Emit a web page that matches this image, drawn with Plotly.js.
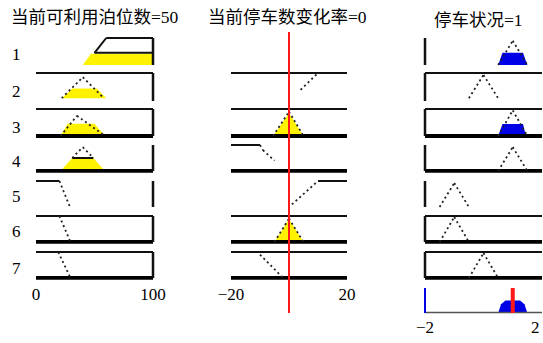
<!DOCTYPE html>
<html><head><meta charset="utf-8">
<script src="https://cdn.plot.ly/plotly-3.0.1.min.js"></script>
<style>html,body{margin:0;padding:0;background:#fff;}#chart{width:543px;height:343px;}</style>
</head><body><div id="chart"></div>
<script>
// ---------------- data ----------------
const in1Name = '当前可利用泊位数';
const in2Name = '当前停车数变化率';
const outName = '停车状况';
const in1Value = 50;
const in2Value = 0;
const outValue = 1;
const in1Range = [0, 100];
const in2Range = [-20, 20];
const outRange = [-2, 2];
const ruleLabels = ['1', '2', '3', '4', '5', '6', '7'];

// membership-function outlines per rule (x = variable value, y = membership degree)
const in1MfX = [[50, 60, 100], [22, 40, 58], [21, 35, 59], [31, 40, 49], [0, 20, 29], [0, 20, 29], [0, 19, 29]];
const in1MfY = [[0.45, 1, 1], [0.1, 0.85, 0.1], [0, 0.75, 0], [0.5, 0.92, 0.5], [1, 1, 0], [1, 1, 0.05], [1, 1, 0.05]];
const in1FillX = [[40, 47, 100, 100], [22, 31, 52, 60], [21, 27, 50, 59], [21, 31, 49, 59], null, null, null];
const in1FillY = [[0, 0.42, 0.42, 0], [0.1, 0.45, 0.45, 0.1], [0, 0.45, 0.45, 0], [0, 0.5, 0.5, 0], null, null, null];
const in1LevelX = [[50, 100], null, null, [31, 49], null, null, null];
const in1LevelY = [[0.45, 0.45], null, null, [0.5, 0.5], null, null, null];

const in2MfX = [null, [4, 10, 20], [-5.5, 0, 5], [-20, -10, -9, -5], [1, 10, 20], [-5, 0, 5], [-10, -2]];
const in2MfY = [null, [0.4, 1, 1], [0, 0.9, 0], [1, 1, 0.8, 0.4], [0.1, 1, 1], [0, 0.9, 0], [0.9, 0]];
const in2FillX = [null, null, [-5.5, 0, 5], null, null, [-5, 0, 5], null];
const in2FillY = [null, null, [0, 0.85, 0], null, null, [0, 0.88, 0], null];

const outMfX = [[0.5, 1, 1.5], [-0.5, 0, 0.5], [0.5, 1, 1.5], [0.5, 1, 1.5], [-1.5, -1, -0.5], [-1.5, -1, -0.5], [-0.5, 0, 0.5]];
const outMfY = [[0, 0.9, 0], [0.1, 0.93, 0.1], [0, 0.95, 0], [0, 0.92, 0], [0, 0.92, 0], [0, 0.96, 0], [0, 0.96, 0]];
const outFillX = [[0.5, 0.65, 1.35, 1.5], null, [0.5, 0.65, 1.35, 1.45], null, null, null, null];
const outFillY = [[0, 0.45, 0.45, 0], null, [0, 0.44, 0.44, 0], null, null, null, null];
const aggX = [0.5, 0.6, 0.75, 1.25, 1.4, 1.5];
const aggY = [0, 0.35, 0.5, 0.5, 0.35, 0];

// ---------------- layout geometry / styles ----------------
const W = 543, H = 343;
const colPx = [[36, 153], [231, 347], [425, 542]];
const rowTop = [38, 73, 109, 145, 181, 216, 252, 288];
const rowBot = [65, 101, 136, 171, 207, 242, 278, 313];
const axisPosPx = [282, 282, 316];
const padF = 0.07;
const YELLOW = '#fff200', BLUE = '#0000e6', RED = '#ff1a1a';
const SERIF = '"Liberation Serif", "Times New Roman", "Noto Sans CJK SC", serif';
const frames = [
  ['R', 'TR', 'TBR', 'BR', 'R', 'TBR', 'TBR'],
  ['', 'T', 'TB', 'B', '', 'TB', 'TB'],
  ['L', 'TL', 'TBL', 'BL', 'L', 'TBL', 'TBL']
];
const solidMfRows = [[0], [], []];
const ranges = [in1Range, in2Range, outRange];

const layout = {
  width: W, height: H, margin: {l: 0, r: 0, t: 0, b: 0},
  paper_bgcolor: '#fff', plot_bgcolor: 'rgba(0,0,0,0)',
  showlegend: false, hovermode: false, annotations: []
};
const tickFont = {family: SERIF, size: 17, color: '#000'};

// x axes (one per column)
const xIds = ['x', 'x2', 'x3'];
for (let c = 0; c < 3; c++) {
  const r = ranges[c], px0 = colPx[c][0], px1 = colPx[c][1];
  const scale = (r[1] - r[0]) / (px1 - px0);
  const pp = padF * (px1 - px0);
  const dLo = Math.max(0, px0 - pp), dHi = Math.min(W, px1 + pp);
  const key = c === 0 ? 'xaxis' : 'xaxis' + (c + 1);
  layout[key] = {
    domain: [dLo / W, dHi / W],
    range: [r[0] - (px0 - dLo) * scale, r[1] + (dHi - px1) * scale],
    anchor: 'free', position: 1 - axisPosPx[c] / H,
    showgrid: false, zeroline: false, showline: false, ticks: '',
    tickvals: [r[0], r[1]], showticklabels: c !== 2,
    tickfont: tickFont
  };
}
// output axis tick labels (drawn as annotations so the edge label is not dropped)
layout.annotations.push(
  {text: '\u2212' + Math.abs(outRange[0]), x: outRange[0], xref: 'x3', y: 1 - 327 / H, yref: 'paper',
   showarrow: false, xanchor: 'center', yanchor: 'middle', font: tickFont},
  {text: String(outRange[1]), x: outRange[1], xref: 'x3', y: 1 - 327 / H, yref: 'paper',
   showarrow: false, xanchor: 'right', yanchor: 'middle', font: tickFont}
);
// y axes (one per row + one full-height for the input marker line)
const yIds = [];
for (let i = 0; i < 8; i++) {
  const h = rowBot[i] - rowTop[i];
  const pp = padF * h;
  const key = i === 0 ? 'yaxis' : 'yaxis' + (i + 1);
  yIds.push(i === 0 ? 'y' : 'y' + (i + 1));
  layout[key] = {
    domain: [1 - (rowBot[i] + pp) / H, 1 - (rowTop[i] - pp) / H],
    range: [-padF, 1 + padF], visible: false, anchor: 'free', position: 0,
    showgrid: false, zeroline: false
  };
}
layout.yaxis9 = {domain: [1 - 313 / H, 1 - 32 / H], range: [0, 1], visible: false,
  anchor: 'free', position: 0, showgrid: false, zeroline: false};

const fills = [], lines = [], marks = [];

function addFill(xs, ys, xa, ya, color) {
  if (!xs) return;
  fills.push({type: 'scatter', mode: 'lines', x: xs, y: ys, xaxis: xa, yaxis: ya,
    fill: 'toself', fillcolor: color, line: {width: 0}});
}
function addMf(xs, ys, xa, ya, allSolid) {
  if (!xs) return;
  const sx = [], sy = [], dx = [], dy = [];
  for (let i = 0; i < xs.length - 1; i++) {
    const solid = allSolid || (ys[i] >= 0.98 && ys[i + 1] >= 0.98);
    const tx = solid ? sx : dx, ty = solid ? sy : dy;
    tx.push(xs[i], xs[i + 1], null); ty.push(ys[i], ys[i + 1], null);
  }
  if (sx.length) lines.push({type: 'scatter', mode: 'lines', x: sx, y: sy, xaxis: xa, yaxis: ya,
    line: {color: '#111', width: 2}});
  if (dx.length) lines.push({type: 'scatter', mode: 'lines', x: dx, y: dy, xaxis: xa, yaxis: ya,
    line: {color: '#222', width: 1.8, dash: '2px,3px'}});
}
function addLine(xs, ys, xa, ya, color, width) {
  if (!xs) return;
  lines.push({type: 'scatter', mode: 'lines', x: xs, y: ys, xaxis: xa, yaxis: ya,
    line: {color: color, width: width}});
}

const mfX = [in1MfX, in2MfX, outMfX], mfY = [in1MfY, in2MfY, outMfY];
const fX = [in1FillX, in2FillX, outFillX], fY = [in1FillY, in2FillY, outFillY];
const fillColors = [YELLOW, YELLOW, BLUE];

for (let c = 0; c < 3; c++) {
  const r = ranges[c];
  for (let i = 0; i < ruleLabels.length; i++) {
    const xa = xIds[c], ya = yIds[i];
    addFill(fX[c][i], fY[c][i], xa, ya, fillColors[c]);
    const f = frames[c][i];
    if (f.includes('T')) addLine([r[0], r[1]], [1, 1], xa, ya, '#111', 2);
    if (f.includes('B')) addLine([r[0], r[1]], [0, 0], xa, ya, '#000', 4);
    if (f.includes('R')) addLine([r[1], r[1]], [0, 1], xa, ya, '#111', 2.5);
    if (f.includes('L')) addLine([r[0], r[0]], [0, 1], xa, ya, '#111', 2.5);
    addMf(mfX[c][i], mfY[c][i], xa, ya, solidMfRows[c].includes(i));
  }
}
for (let i = 0; i < ruleLabels.length; i++) {
  addLine(in1LevelX[i], in1LevelY[i], 'x', yIds[i], '#111', 2);
}
// aggregated output row
addFill(aggX, aggY, 'x3', 'y8', BLUE);
addLine([outRange[0], outRange[1]], [0.02, 0.02], 'x3', 'y8', '#555', 1.5);
addLine([outRange[0], outRange[0]], [0, 1], 'x3', 'y8', BLUE, 2);
marks.push({type: 'scatter', mode: 'lines', x: [outValue, outValue], y: [0, 1], xaxis: 'x3', yaxis: 'y8',
  line: {color: RED, width: 4}});
// input value marker
marks.push({type: 'scatter', mode: 'lines', x: [in2Value, in2Value], y: [0, 1], xaxis: 'x2', yaxis: 'y9',
  line: {color: RED, width: 2}});

// titles and rule numbers
const titleFont = {family: SERIF, size: 17.5, color: '#000'};
layout.annotations.push(
  {text: in1Name + '=' + in1Value, x: 95 / W, y: 1 - 17 / H, xref: 'paper', yref: 'paper', showarrow: false, font: titleFont, xanchor: 'center', yanchor: 'middle'},
  {text: in2Name + '=' + in2Value, x: 287 / W, y: 1 - 17 / H, xref: 'paper', yref: 'paper', showarrow: false, font: titleFont, xanchor: 'center', yanchor: 'middle'},
  {text: outName + '=' + outValue, x: 478 / W, y: 1 - 20 / H, xref: 'paper', yref: 'paper', showarrow: false, font: titleFont, xanchor: 'center', yanchor: 'middle'}
);
const labelY = [55, 91, 127, 161, 197, 232, 268];
ruleLabels.forEach((t, i) => layout.annotations.push({text: t, x: 16 / W, y: 1 - labelY[i] / H,
  xref: 'paper', yref: 'paper', showarrow: false, xanchor: 'center', yanchor: 'middle',
  font: {family: SERIF, size: 17, color: '#000'}}));

Plotly.newPlot('chart', fills.concat(lines, marks), layout, {staticPlot: true, displayModeBar: false});
</script></body></html>
